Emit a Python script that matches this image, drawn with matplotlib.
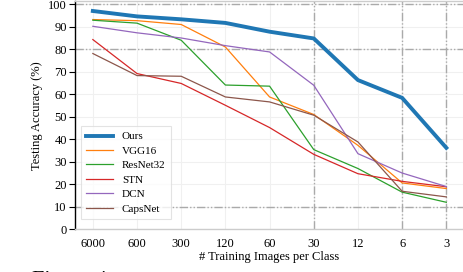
import numpy as np
import matplotlib
matplotlib.use('Agg')
from matplotlib import pyplot as plt

######### Data ############
n_images = ['6000', '600', '300', '120', '60', '30', '12', '6', '3']
ours     = [97.0, 94.6, 93.3, 91.7, 87.8, 84.8, 66.3, 58.4, 36.2]
vgg16    = [93.2, 92.7, 91.0, 81.0, 58.8, 51.0, 37.3, 20.6, 18.1]
resnet32 = [92.9, 91.6, 84.0, 64.1, 63.6, 35.4, 27.0, 16.5, 12.0]
stn      = [84.3, 69.2, 64.8, 55.1, 45.2, 33.3, 24.7, 21.3, 18.9]
dcn      = [90.2, 87.3, 85.0, 81.6, 78.8, 64.0, 33.6, 25.0, 19.0]
capsnet  = [78.1, 68.3, 68.0, 58.8, 56.6, 50.7, 38.8, 16.9, 14.4]
###########################

plt.rcParams['font.family'] = ['Liberation Serif', 'DejaVu Serif']
plt.rcParams['font.size'] = 9

fig = plt.figure(figsize=(4.64, 2.72), dpi=100)
ax = fig.add_axes([0.162, 0.157, 0.838, 0.839])

x = np.arange(len(n_images))

# light grid everywhere, dash-dot-dot on a few lines
for yv in range(0, 101, 10):
    ax.axhline(yv, color='#f0f0f0', lw=0.8, zorder=0)
for xv in x:
    ax.axvline(xv, color='#f0f0f0', lw=0.8, zorder=0)
dashdotdot = (0, (6, 1.5, 1, 1.5, 1, 1.5))
for yv in [100, 80, 10]:
    ax.axhline(yv, color='#aaaaaa', lw=1.0, ls=dashdotdot, zorder=1)
for xv in [5, 7, 8]:
    ax.axvline(xv, color='#aaaaaa', lw=1.0, ls=dashdotdot, zorder=1)

ax.plot(x, ours, color='#1f77b4', lw=2.8, label='Ours', zorder=5)
ax.plot(x, vgg16, color='#ff7f0e', lw=0.9, label='VGG16', zorder=4)
ax.plot(x, resnet32, color='#2ca02c', lw=0.9, label='ResNet32', zorder=4)
ax.plot(x, stn, color='#d62728', lw=0.9, label='STN', zorder=4)
ax.plot(x, dcn, color='#9467bd', lw=0.9, label='DCN', zorder=4)
ax.plot(x, capsnet, color='#8c564b', lw=0.9, label='CapsNet', zorder=4)

ax.set_xlim(-0.4, 8.4)
ax.set_ylim(0, 101.4)
ax.set_xticks(x)
ax.set_xticklabels(n_images)
ax.set_yticks(range(0, 101, 10))
ax.tick_params(axis='x', length=0, pad=6)
ax.tick_params(axis='y', length=4, width=0.8, color='black', pad=2)

ax.spines['left'].set_color('black')
ax.spines['left'].set_linewidth(1.0)
for s in ['top', 'bottom', 'right']:
    ax.spines[s].set_color('#cccccc')
    ax.spines[s].set_linewidth(1.0)

ax.set_xlabel('# Training Images per Class', labelpad=1)
ax.set_ylabel('Testing Accuracy (%)', labelpad=4)

leg = ax.legend(loc='lower left', fontsize=8, frameon=True, fancybox=False,
                handlelength=2.4, borderpad=0.5, labelspacing=0.42,
                handletextpad=0.8, bbox_to_anchor=(0.0, 0.02))
leg.get_frame().set_edgecolor('#dddddd')
leg.get_frame().set_linewidth(0.8)

# cropped caption below the chart
fig.text(0.069, -0.048, 'Figure 4:', fontsize=16, va='baseline')

fig.savefig('out.png', dpi=100)
